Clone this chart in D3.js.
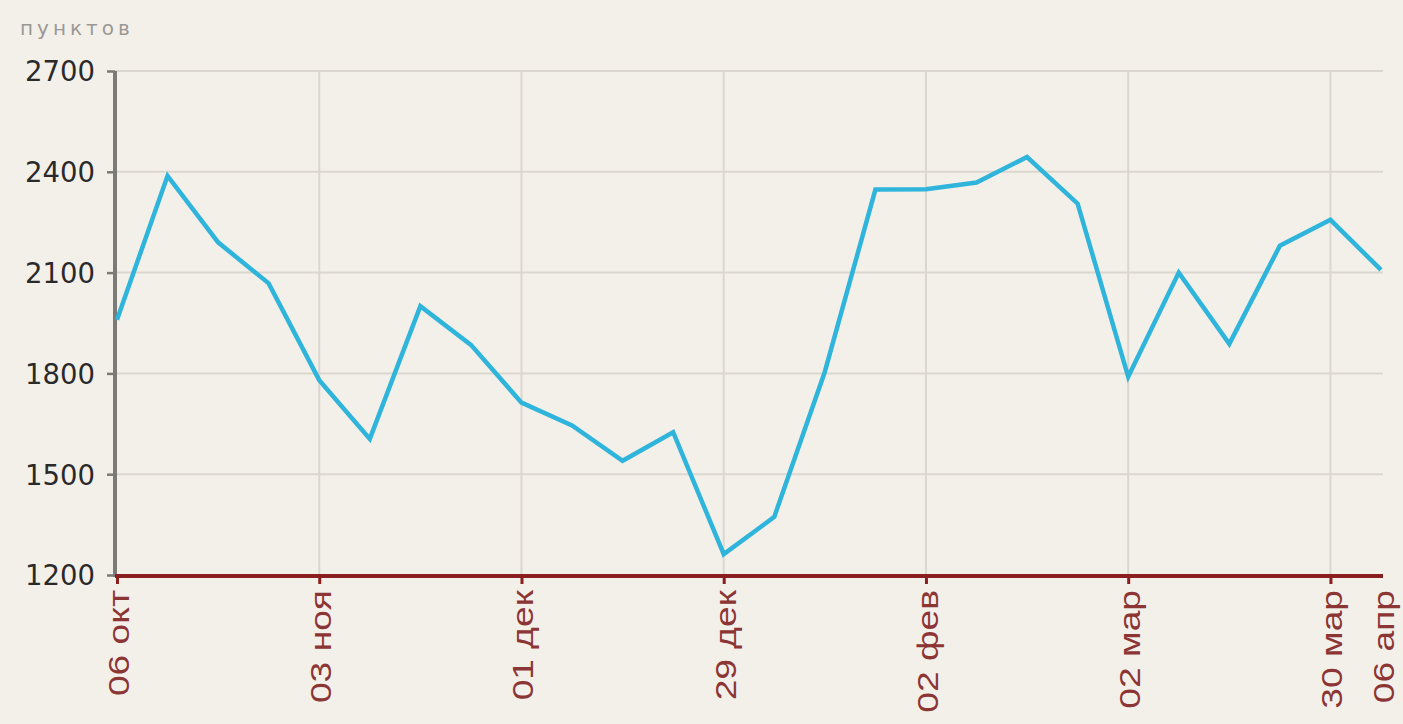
<!DOCTYPE html>
<html>
<head>
<meta charset="utf-8">
<script src="https://cdn.jsdelivr.net/npm/d3@7"></script>
<style>
  html, body { margin: 0; padding: 0; background: #f3f0ea; }
  svg { display: block; }
</style>
</head>
<body>
<svg id="chart" width="1403" height="724"></svg>
<script>
// ---- data ----
const weeks = ["06 окт","13 окт","20 окт","27 окт","03 ноя","10 ноя","17 ноя","24 ноя",
               "01 дек","08 дек","15 дек","22 дек","29 дек","12 янв","19 янв","26 янв",
               "02 фев","09 фев","16 фев","23 фев","02 мар","09 мар","16 мар","23 мар",
               "30 мар","06 апр"];
const values = [1960, 2388, 2190, 2068, 1780, 1605, 2000, 1885,
                1713, 1645, 1540, 1625, 1262, 1373, 1805, 2347,
                2348, 2368, 2444, 2305, 1790, 2100, 1888, 2180,
                2257, 2108];
const xTickLabels = ["06 окт","03 ноя","01 дек","29 дек","02 фев","02 мар","30 мар","06 апр"];
const xGridLabels = ["03 ноя","01 дек","29 дек","02 фев","02 мар","30 мар"];
const xTickMarks = ["06 окт","03 ноя","01 дек","29 дек","02 фев","02 мар","30 мар"];
const yTicks = [1200, 1500, 1800, 2100, 2400, 2700];
const unitLabel = "пунктов";

(function () {
// ---- layout ----
const svg = d3.select("#chart");
const pLeft = 117, pRight = 1381, pTop = 71, pBottom = 575;
const axisRight = 1383;

const x = d3.scalePoint().domain(weeks).range([pLeft, pRight]);
const y = d3.scaleLinear().domain([1200, 2700]).range([pBottom, pTop]);

// background
svg.append("rect").attr("width", 1403).attr("height", 724).attr("fill", "#f3f0ea");

// horizontal grid
svg.append("g").selectAll("line").data(yTicks.slice(1)).join("line")
  .attr("x1", pLeft - 2).attr("x2", axisRight)
  .attr("y1", d => y(d)).attr("y2", d => y(d))
  .attr("stroke", "#dcd7ce").attr("stroke-width", 2);

// vertical grid
svg.append("g").selectAll("line").data(xGridLabels).join("line")
  .attr("x1", d => x(d)).attr("x2", d => x(d))
  .attr("y1", pTop).attr("y2", pBottom)
  .attr("stroke", "#dcd7ce").attr("stroke-width", 2);

// y axis
const yAxis = d3.axisLeft(y).tickValues(yTicks).tickSize(8).tickPadding(12).tickFormat(d3.format("d"));
const gy = svg.append("g").attr("transform", `translate(${pLeft - 2},0)`).call(yAxis);
gy.select(".domain").remove();
gy.selectAll(".tick line").attr("stroke", "#7c7a77").attr("stroke-width", 2.5);
gy.selectAll(".tick text")
  .attr("fill", "#2a2a2a")
  .attr("font-family", "DejaVu Sans, Verdana, sans-serif")
  .attr("font-size", 27.5)
  .attr("dy", "0.36em");
svg.append("line")
  .attr("x1", pLeft - 2).attr("x2", pLeft - 2)
  .attr("y1", pTop).attr("y2", pBottom + 2)
  .attr("stroke", "#7c7a77").attr("stroke-width", 4);

// unit label
svg.append("text")
  .attr("x", 20).attr("y", 35)
  .attr("font-family", "DejaVu Sans, Verdana, sans-serif")
  .attr("font-size", 20)
  .attr("letter-spacing", 4)
  .attr("fill", "#9a9895")
  .text(unitLabel);

// x axis
const xAxis = d3.axisBottom(x).tickValues(xTickMarks).tickSize(8).tickFormat("");
const gx = svg.append("g").attr("transform", `translate(0,${pBottom + 1})`).call(xAxis);
gx.select(".domain").remove();
gx.selectAll(".tick line").attr("stroke", "#8a1f1f").attr("stroke-width", 3);
svg.append("line")
  .attr("x1", pLeft - 2).attr("x2", axisRight)
  .attr("y1", pBottom + 1).attr("y2", pBottom + 1)
  .attr("stroke", "#8a1f1f").attr("stroke-width", 4);

// x labels (rotated)
svg.append("g").selectAll("text").data(xTickLabels).join("text")
  .attr("transform", d => `translate(${x(d) + (d === "06 апр" ? 13 : 12)},${pBottom + 15}) rotate(-90) scale(1.24,1)`)
  .attr("text-anchor", "end")
  .attr("font-family", "Liberation Sans, Arial, sans-serif")
  .attr("font-size", 30)
  .attr("fill", "#8c3535")
  .text(d => d);

// line
const line = d3.line().x((d, i) => x(weeks[i])).y(d => y(d));
svg.append("path")
  .datum(values)
  .attr("d", line)
  .attr("fill", "none")
  .attr("stroke", "#2fb4db")
  .attr("stroke-width", 4.5)
  .attr("stroke-linejoin", "miter");
})();
</script>
</body>
</html>
